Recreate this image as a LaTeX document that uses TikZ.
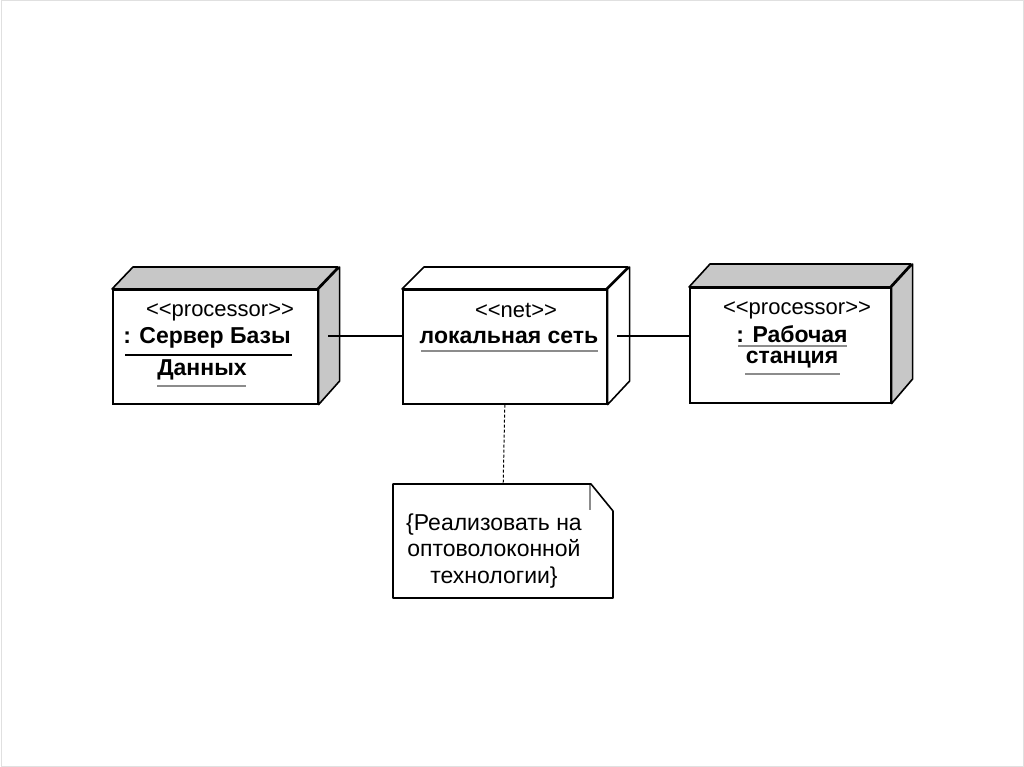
\documentclass[tikz,border=0pt]{standalone}
\usepackage{fontspec}
\setmainfont{Liberation Sans}[Ligatures=NoCommon]
\usetikzlibrary{calc}
\newcommand{\lgl}{{<}\kern0pt{<}}
\newcommand{\rgr}{{>}\kern0pt{>}}
\begin{document}
\begin{tikzpicture}[x=1pt,y=-1pt,
  front/.style={draw=black,line width=1.6pt,fill=white,rectangle,inner sep=0pt,anchor=north west},
  face/.style={draw=black,line width=1.6pt,line join=round},
  graysurf/.style={fill=black!22},
  whitesurf/.style={fill=white},
  ster/.style={font=\fontsize{22}{24}\selectfont,inner sep=0pt},
  nm/.style={font=\bfseries\fontsize{23}{26}\selectfont,inner sep=0pt},
  ul/.style={draw=black!45,line width=2pt},
  ulb/.style={draw=black,line width=1.3pt},
  conn/.style={draw=black,line width=1.3pt},
  notetxt/.style={font=\fontsize{23}{26.5}\selectfont,align=center,inner sep=0pt}]
\useasboundingbox[fill=white] (0,0) rectangle (1024,767);
\draw[black!12,line width=1pt] (1,1) rectangle (1023,766);

% ---- Server node
\node[front,minimum width=205pt,minimum height=114pt] (srv) at (112,289) {};
\draw[face,graysurf] (srv.north west) -- ++(21,-22) -- ++(205,0) -- ++(-21,22) -- cycle;
\draw[face,graysurf] (srv.north east) -- ++(21,-22) -- ++(0,114) -- (srv.south east) -- cycle;
\node[ster] (srvst) at (220,312) {\lgl processor\rgr};
\node[nm] (srvn1) at (207,338) {: Сервер Базы};
\draw[ulb] (125,355) -- (292,355);
\node[nm] (srvn2) at (202,370) {Данных};
\draw[ul] (157,386) -- (246,386);

% ---- LAN node
\node[front,minimum width=204pt,minimum height=114pt] (lan) at (402,289) {};
\draw[face,whitesurf] (lan.north west) -- ++(22,-22) -- ++(204,0) -- ++(-22,22) -- cycle;
\draw[face,whitesurf] (lan.north east) -- ++(22,-22) -- ++(0,114) -- (lan.south east) -- cycle;
\node[ster] (lanst) at (516,310) {\lgl net\rgr};
\node[nm] (lann) at (509,337) {локальная сеть};
\draw[ul] (421,351) -- (598,351);

% ---- Workstation node
\node[front,minimum width=201pt,minimum height=115pt] (ws) at (689,287) {};
\draw[face,graysurf] (ws.north west) -- ++(21,-23) -- ++(201,0) -- ++(-21,23) -- cycle;
\draw[face,graysurf] (ws.north east) -- ++(21,-23) -- ++(0,115) -- (ws.south east) -- cycle;
\node[ster] (wsst) at (797,310) {\lgl processor\rgr};
\node[nm] (wsn1) at (792,334) {: Рабочая};
\draw[ul] (738,346) -- (847,346);
\node[nm] (wsn2) at (792,360) {станция};
\draw[ul] (745,374) -- (840,374);

% ---- Note
\node[inner sep=0pt,minimum width=220pt,minimum height=114pt,anchor=north west] (note) at (393,484) {};
\draw[face] (393,484) -- (591,484) -- (613,511) -- (613,598) -- (393,598) -- cycle;
\draw[black!45,line width=2pt] (589.5,485) -- (589.5,510);
\node[notetxt] (notet) at (494,551) {\{Реализовать на\\оптоволоконной\\технологии\}};

% ---- connectors
\coordinate (srvside) at (328,336);
\coordinate (lanside) at (617,336);
\draw[conn] (srvside) -- (srvside -| lan.west);
\draw[conn] (lanside) -- (lanside -| ws.west);
\draw[black,line width=1pt,dash pattern=on 3pt off 2pt] (lan.south) -- (note.north);
\end{tikzpicture}
\end{document}
